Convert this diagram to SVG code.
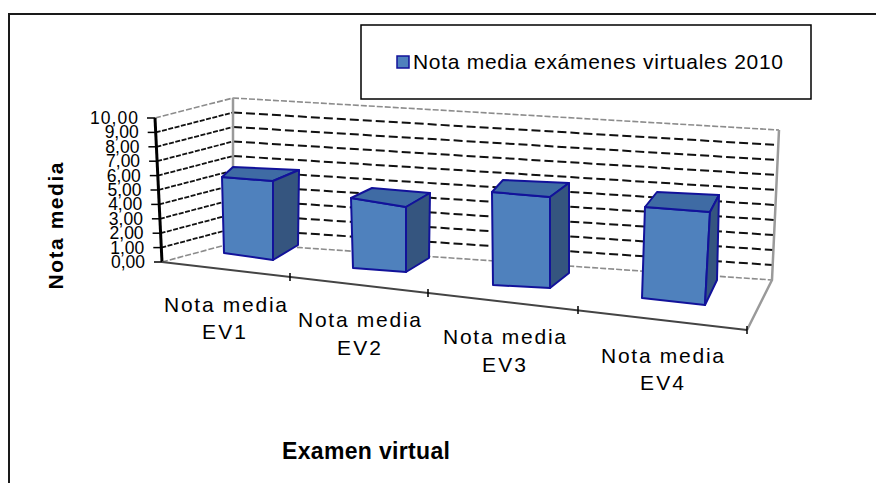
<svg xmlns="http://www.w3.org/2000/svg" width="876" height="483" viewBox="0 0 876 483">
<style>
text{font-family:"Liberation Sans",Arial,sans-serif;fill:#000}
.yl{font-size:17.5px;text-anchor:end}
.cl{font-size:21px;text-anchor:middle}
.t{font-weight:bold}
.gb{stroke:#111;stroke-width:2;stroke-dasharray:9 4;fill:none}
.gl{stroke:#111;stroke-width:1.8;stroke-dasharray:5 1.5;fill:none}
.gg{stroke:#8c8c8c;stroke-width:1.6;stroke-dasharray:6 2;fill:none}
.edge{stroke:#9a9a9a;stroke-width:2.5;fill:none}
.tick{stroke:#000;stroke-width:1.5}
.front{fill:#4F81BD;stroke:#12129A;stroke-width:2;stroke-linejoin:round}
.top{fill:#3F6BA4;stroke:#12129A;stroke-width:2;stroke-linejoin:round}
.side{fill:#35557F;stroke:#12129A;stroke-width:2;stroke-linejoin:round}
</style>
<rect width="876" height="483" fill="#fff"/>
<path id="frame" d="M9,483 V14 H876" fill="none" stroke="#1a1a1a" stroke-width="2"/>
<g id="legend">
<rect x="361" y="25" width="450" height="74" fill="#fff" stroke="#000" stroke-width="1.5"/>
<rect x="397" y="56" width="12" height="12" fill="#4F81BD" stroke="#12129A" stroke-width="1.5"/>
<text x="413" y="69" font-size="21" textLength="370">Nota media exámenes virtuales 2010</text>
</g>
<g id="walls">
<line class="gg" x1="233" y1="98" x2="779" y2="130"/>
<line class="gb" x1="233" y1="112.5" x2="778.3" y2="145"/>
<line class="gb" x1="233" y1="127" x2="777.6" y2="160"/>
<line class="gb" x1="233" y1="141.5" x2="776.9" y2="175"/>
<line class="gb" x1="233" y1="156" x2="776.2" y2="190"/>
<line class="gb" x1="233" y1="170.5" x2="775.5" y2="205"/>
<line class="gb" x1="233" y1="185" x2="774.8" y2="220"/>
<line class="gb" x1="233" y1="199.5" x2="774.1" y2="235"/>
<line class="gb" x1="233" y1="214" x2="773.4" y2="250"/>
<line class="gb" x1="233" y1="228.5" x2="772.7" y2="265"/>
<line class="gg" x1="233" y1="243" x2="772" y2="280"/>
<line class="gg" x1="155" y1="118" x2="233" y2="98"/>
<line class="gl" x1="155.7" y1="132.4" x2="233" y2="112.5"/>
<line class="gl" x1="156.4" y1="146.8" x2="233" y2="127"/>
<line class="gl" x1="157.1" y1="161.2" x2="233" y2="141.5"/>
<line class="gl" x1="157.8" y1="175.6" x2="233" y2="156"/>
<line class="gl" x1="158.5" y1="190" x2="233" y2="170.5"/>
<line class="gl" x1="159.2" y1="204.4" x2="233" y2="185"/>
<line class="gl" x1="159.9" y1="218.8" x2="233" y2="199.5"/>
<line class="gl" x1="160.6" y1="233.2" x2="233" y2="214"/>
<line class="gl" x1="161.3" y1="247.6" x2="233" y2="228.5"/>
<line class="gg" x1="162" y1="262" x2="233" y2="243"/>
<line class="edge" x1="233" y1="98" x2="233" y2="243"/>
<polyline class="edge" points="779,130 772,280 747,330"/>
</g>
<g id="axes">
<line x1="155" y1="118" x2="162" y2="262" stroke="#000" stroke-width="3"/>
<line x1="162" y1="262" x2="747" y2="330" stroke="#444" stroke-width="2"/>
<line class="tick" x1="147" y1="118" x2="155" y2="118"/>
<line class="tick" x1="147.7" y1="132.4" x2="155.7" y2="132.4"/>
<line class="tick" x1="148.4" y1="146.8" x2="156.4" y2="146.8"/>
<line class="tick" x1="149.1" y1="161.2" x2="157.1" y2="161.2"/>
<line class="tick" x1="149.8" y1="175.6" x2="157.8" y2="175.6"/>
<line class="tick" x1="150.5" y1="190" x2="158.5" y2="190"/>
<line class="tick" x1="151.2" y1="204.4" x2="159.2" y2="204.4"/>
<line class="tick" x1="151.9" y1="218.8" x2="159.9" y2="218.8"/>
<line class="tick" x1="152.6" y1="233.2" x2="160.6" y2="233.2"/>
<line class="tick" x1="153.3" y1="247.6" x2="161.3" y2="247.6"/>
<line class="tick" x1="154" y1="262" x2="162" y2="262"/>
<line class="tick" x1="290" y1="273" x2="290" y2="281"/>
<line class="tick" x1="428" y1="289" x2="428" y2="297"/>
<line class="tick" x1="578" y1="306" x2="578" y2="314"/>
<line class="tick" x1="747" y1="326" x2="747" y2="334"/>
<text class="yl" x="138" y="124" textLength="48">10,00</text>
<text class="yl" x="138.7" y="138.4">9,00</text>
<text class="yl" x="139.4" y="152.8">8,00</text>
<text class="yl" x="140.1" y="167.2">7,00</text>
<text class="yl" x="140.8" y="181.6">6,00</text>
<text class="yl" x="141.5" y="196">5,00</text>
<text class="yl" x="142.2" y="210.4">4,00</text>
<text class="yl" x="142.9" y="224.8">3,00</text>
<text class="yl" x="143.6" y="239.2">2,00</text>
<text class="yl" x="144.3" y="253.6">1,00</text>
<text class="yl" x="145" y="268">0,00</text>
</g>
<g id="bar-ev1">
<polygon class="front" points="222,177 273,181 273,260 224,253"/>
<polygon class="top" points="222,177 233,167 299,170 273,181"/>
<polygon class="side" points="273,181 299,170 298,245 273,260"/>
</g>
<g id="bar-ev2">
<polygon class="front" points="351,198 406,207 406,272 353,268"/>
<polygon class="top" points="351,198 372,188 430,193 406,207"/>
<polygon class="side" points="406,207 430,193 429,258 406,272"/>
</g>
<g id="bar-ev3">
<polygon class="front" points="492,192 550,197 550,288 493,285"/>
<polygon class="top" points="492,192 503,180 569,183 550,197"/>
<polygon class="side" points="550,197 569,183 569,273 550,288"/>
</g>
<g id="bar-ev4">
<polygon class="front" points="645,207 710,212 705,305 642,298"/>
<polygon class="top" points="645,207 657,192 719,195 710,212"/>
<polygon class="side" points="710,212 719,195 717,280 705,305"/>
</g>
<g id="category-labels">
<text class="cl" x="225.5" y="312" textLength="123">Nota media</text>
<text class="cl" x="224" y="339" textLength="44">EV1</text>
<text class="cl" x="359.5" y="327" textLength="123">Nota media</text>
<text class="cl" x="359" y="355" textLength="44">EV2</text>
<text class="cl" x="504.5" y="344" textLength="123">Nota media</text>
<text class="cl" x="504" y="372" textLength="44">EV3</text>
<text class="cl" x="662.5" y="363" textLength="123">Nota media</text>
<text class="cl" x="662" y="390" textLength="44">EV4</text>
</g>
<g id="titles">
<text class="t" transform="translate(63,226) rotate(-90)" text-anchor="middle" font-size="21" textLength="127">Nota media</text>
<text class="t" x="366" y="459" text-anchor="middle" font-size="23" textLength="168">Examen virtual</text>
</g>
</svg>
